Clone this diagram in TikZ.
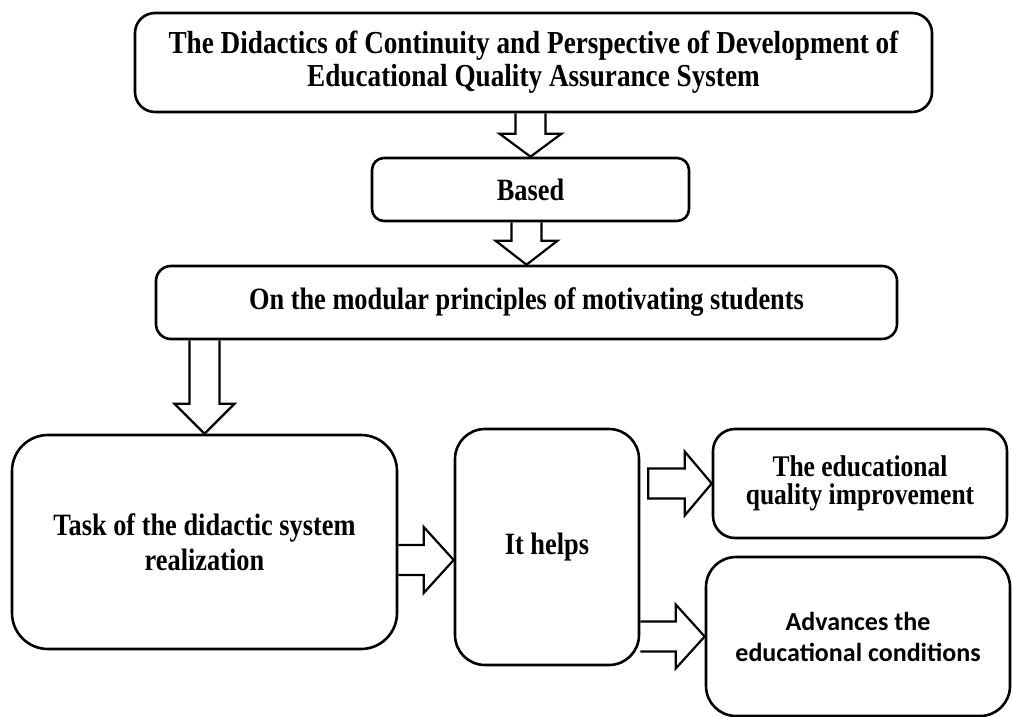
\documentclass[tikz,border=0pt]{standalone}
\usepackage{fontspec}
\newfontfamily\tnr[FakeStretch=0.85]{Liberation Serif}
\newfontfamily\calib{Carlito}
\usetikzlibrary{calc}
\tikzset{
  box/.style={draw, line width=2.6pt, inner sep=0pt, align=center, font=\tnr\bfseries\fontsize{31}{33}\selectfont},
  barrow/.style={draw, line width=2.2pt, line join=miter},
}
% downward block arrow: start, tip, head length, head half width
\newcommand\blkdown[4]{%
  \draw[barrow] let \p1=(#1), \p2=(#2) in
    (\x2-15pt,\y1) -- (\x2-15pt,\y2+#3pt) -- (\x2-#4pt,\y2+#3pt) -- (\x2,\y2)
    -- (\x2+#4pt,\y2+#3pt) -- (\x2+15pt,\y2+#3pt) -- (\x2+15pt,\y1);}
% rightward block arrow
\newcommand\blkright[4]{%
  \draw[barrow] let \p1=(#1), \p2=(#2) in
    (\x1,\y2+15pt) -- (\x2-#3pt,\y2+15pt) -- (\x2-#3pt,\y2+#4pt) -- (\x2,\y2)
    -- (\x2-#3pt,\y2-#4pt) -- (\x2-#3pt,\y2-15pt) -- (\x1,\y2-15pt);}
% rightward block arrow, closed at its tail
\newcommand\blkrightc[4]{%
  \draw[barrow] let \p1=(#1), \p2=(#2) in
    (\x1,\y2+15pt) -- (\x2-#3pt,\y2+15pt) -- (\x2-#3pt,\y2+#4pt) -- (\x2,\y2)
    -- (\x2-#3pt,\y2-#4pt) -- (\x2-#3pt,\y2-15pt) -- (\x1,\y2-15pt) -- cycle;}
\begin{document}
\begin{tikzpicture}[x=1pt,y=-1pt]
\useasboundingbox (0,0) rectangle (1012,717);
\node[box, rounded corners=20pt, minimum width=797pt, minimum height=99pt,
      font=\tnr\bfseries\fontsize{32}{33}\selectfont] (top) at (533.5,62.5)
  {The Didactics of Continuity and Perspective of Development of\\Educational Quality Assurance System};
\node[box, rounded corners=12pt, minimum width=317pt, minimum height=63pt] (based) at (530.5,189.5) {Based};
\node[box, rounded corners=15pt, minimum width=741pt, minimum height=73pt] (mod) at (526.5,302.5)
  {On the modular principles of motivating students};
\node[box, rounded corners=36pt, minimum width=385pt, minimum height=214pt,
      font=\tnr\bfseries\fontsize{31}{35}\selectfont] (task) at (204.5,542)
  {Task of the didactic system\\realization};
\node[box, rounded corners=30pt, minimum width=184pt, minimum height=236pt] (helps) at (547,547) {It helps};
\node[box, rounded corners=22pt, minimum width=294pt, minimum height=109pt,
      font=\tnr\bfseries\fontsize{30}{28}\selectfont] (edu) at (860,483.5)
  {The educational\\quality improvement};
\node[box, rounded corners=30pt, minimum width=304pt, minimum height=159pt,
      font=\calib\bfseries\fontsize{26}{31}\selectfont] (adv) at (858,636.5)
  {Advances the\\educational conditions};
\blkdown{top.south}{based.north}{23}{31}
\blkdown{based.south}{mod.north}{24}{31}
\blkdown{task.north |- mod.south}{task.north}{30}{30}
\coordinate (t1) at ($(helps.west)+(0,13)$);
\blkright{task.east |- t1}{t1}{30}{33}
\blkrightc{$(helps.east |- edu.west)+(8,0)$}{edu.west}{27}{32}
\blkright{helps.east |- adv.west}{adv.west}{29}{32}
\end{tikzpicture}
\end{document}
